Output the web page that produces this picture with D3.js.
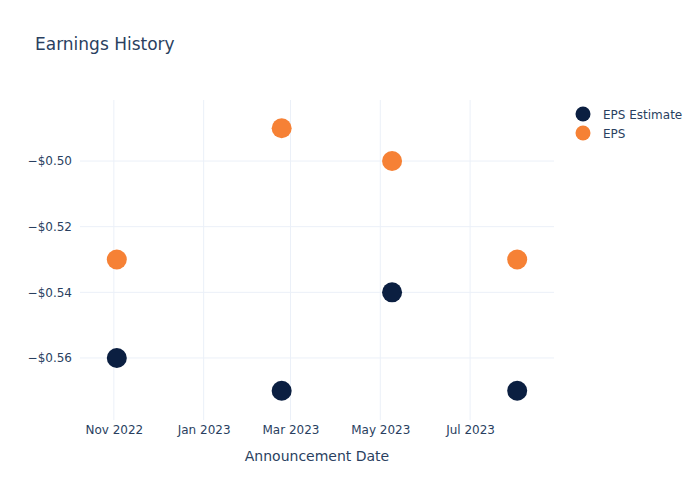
<!DOCTYPE html>
<html>
<head>
<meta charset="utf-8">
<script src="https://cdn.jsdelivr.net/npm/d3@7"></script>
<style>
  body { margin: 0; background: #fff; }
  svg { font-family: "DejaVu Sans", sans-serif; }
</style>
</head>
<body>
<svg id="chart" width="700" height="500"></svg>
<script>
const dates = ["2022-11-03", "2023-02-23", "2023-05-09", "2023-08-02"];
const epsEstimate = [-0.56, -0.57, -0.54, -0.57];
const eps = [-0.53, -0.49, -0.50, -0.53];
const seriesNames = ["EPS Estimate", "EPS"];
const seriesColors = ["#0b1f41", "#f68135"];
const yTicks = [-0.56, -0.54, -0.52, -0.50];
const xTicks = ["2022-11-01", "2023-01-01", "2023-03-01", "2023-05-01", "2023-07-01"];

const parse = d3.utcParse("%Y-%m-%d");
const svg = d3.select("#chart");
const W = 700, H = 500;
const m = {l: 80, r: 146, t: 100, b: 80};
const textColor = "#2a3f5f";
const gridColor = "#ebf0f8";
const font = '"DejaVu Sans", sans-serif';

const x = d3.scaleUtc()
  .domain([parse("2022-10-09"), parse("2023-08-27")])
  .range([m.l, W - m.r]);
const y = d3.scaleLinear()
  .domain([-0.5789, -0.4814])
  .range([H - m.b, m.t]);

// grid
const g = svg.append("g");
g.selectAll(".vg").data(xTicks).join("line")
  .attr("x1", d => x(parse(d))).attr("x2", d => x(parse(d)))
  .attr("y1", m.t).attr("y2", H - m.b)
  .attr("stroke", gridColor).attr("stroke-width", 1);
g.selectAll(".hg").data(yTicks).join("line")
  .attr("x1", m.l).attr("x2", W - m.r)
  .attr("y1", d => y(d)).attr("y2", d => y(d))
  .attr("stroke", gridColor).attr("stroke-width", 1);

// axes
const fmtY = v => "\u2212$" + Math.abs(v).toFixed(2);
const yAxis = d3.axisLeft(y).tickValues(yTicks).tickFormat(fmtY).tickSize(0).tickPadding(6);
const ya = svg.append("g").attr("transform", `translate(${m.l - 2},0)`).call(yAxis);
ya.select(".domain").remove();
ya.selectAll("text").attr("fill", textColor).style("font-size", "12px")
  .style("font-family", font);

const fmtX = d3.utcFormat("%b %Y");
const xAxis = d3.axisBottom(x).tickValues(xTicks.map(parse)).tickFormat(fmtX).tickSize(0).tickPadding(5);
const xa = svg.append("g").attr("transform", `translate(0,${H - m.b})`).call(xAxis);
xa.select(".domain").remove();
xa.selectAll("text").attr("fill", textColor).style("font-size", "12px")
  .style("font-family", font);

// axis title
svg.append("text").attr("x", (m.l + W - m.r) / 2).attr("y", 461)
  .attr("text-anchor", "middle").attr("fill", textColor)
  .style("font-size", "14px").text("Announcement Date");

// title
svg.append("text").attr("x", 35).attr("y", 50)
  .attr("fill", textColor).style("font-size", "17px").text("Earnings History");

// points
const series = [epsEstimate, eps];
series.forEach((vals, i) => {
  svg.append("g").selectAll("circle").data(vals).join("circle")
    .attr("cx", (d, j) => x(parse(dates[j])))
    .attr("cy", d => y(d))
    .attr("r", 10)
    .attr("fill", seriesColors[i]);
});

// legend
const lg = svg.append("g");
seriesNames.forEach((n, i) => {
  const yy = 114 + i * 19;
  lg.append("circle").attr("cx", 583).attr("cy", yy).attr("r", 7.5).attr("fill", seriesColors[i]);
  lg.append("text").attr("x", 603).attr("y", yy + 4.5).attr("fill", textColor)
    .style("font-size", "12px").text(n);
});
</script>
</body>
</html>
